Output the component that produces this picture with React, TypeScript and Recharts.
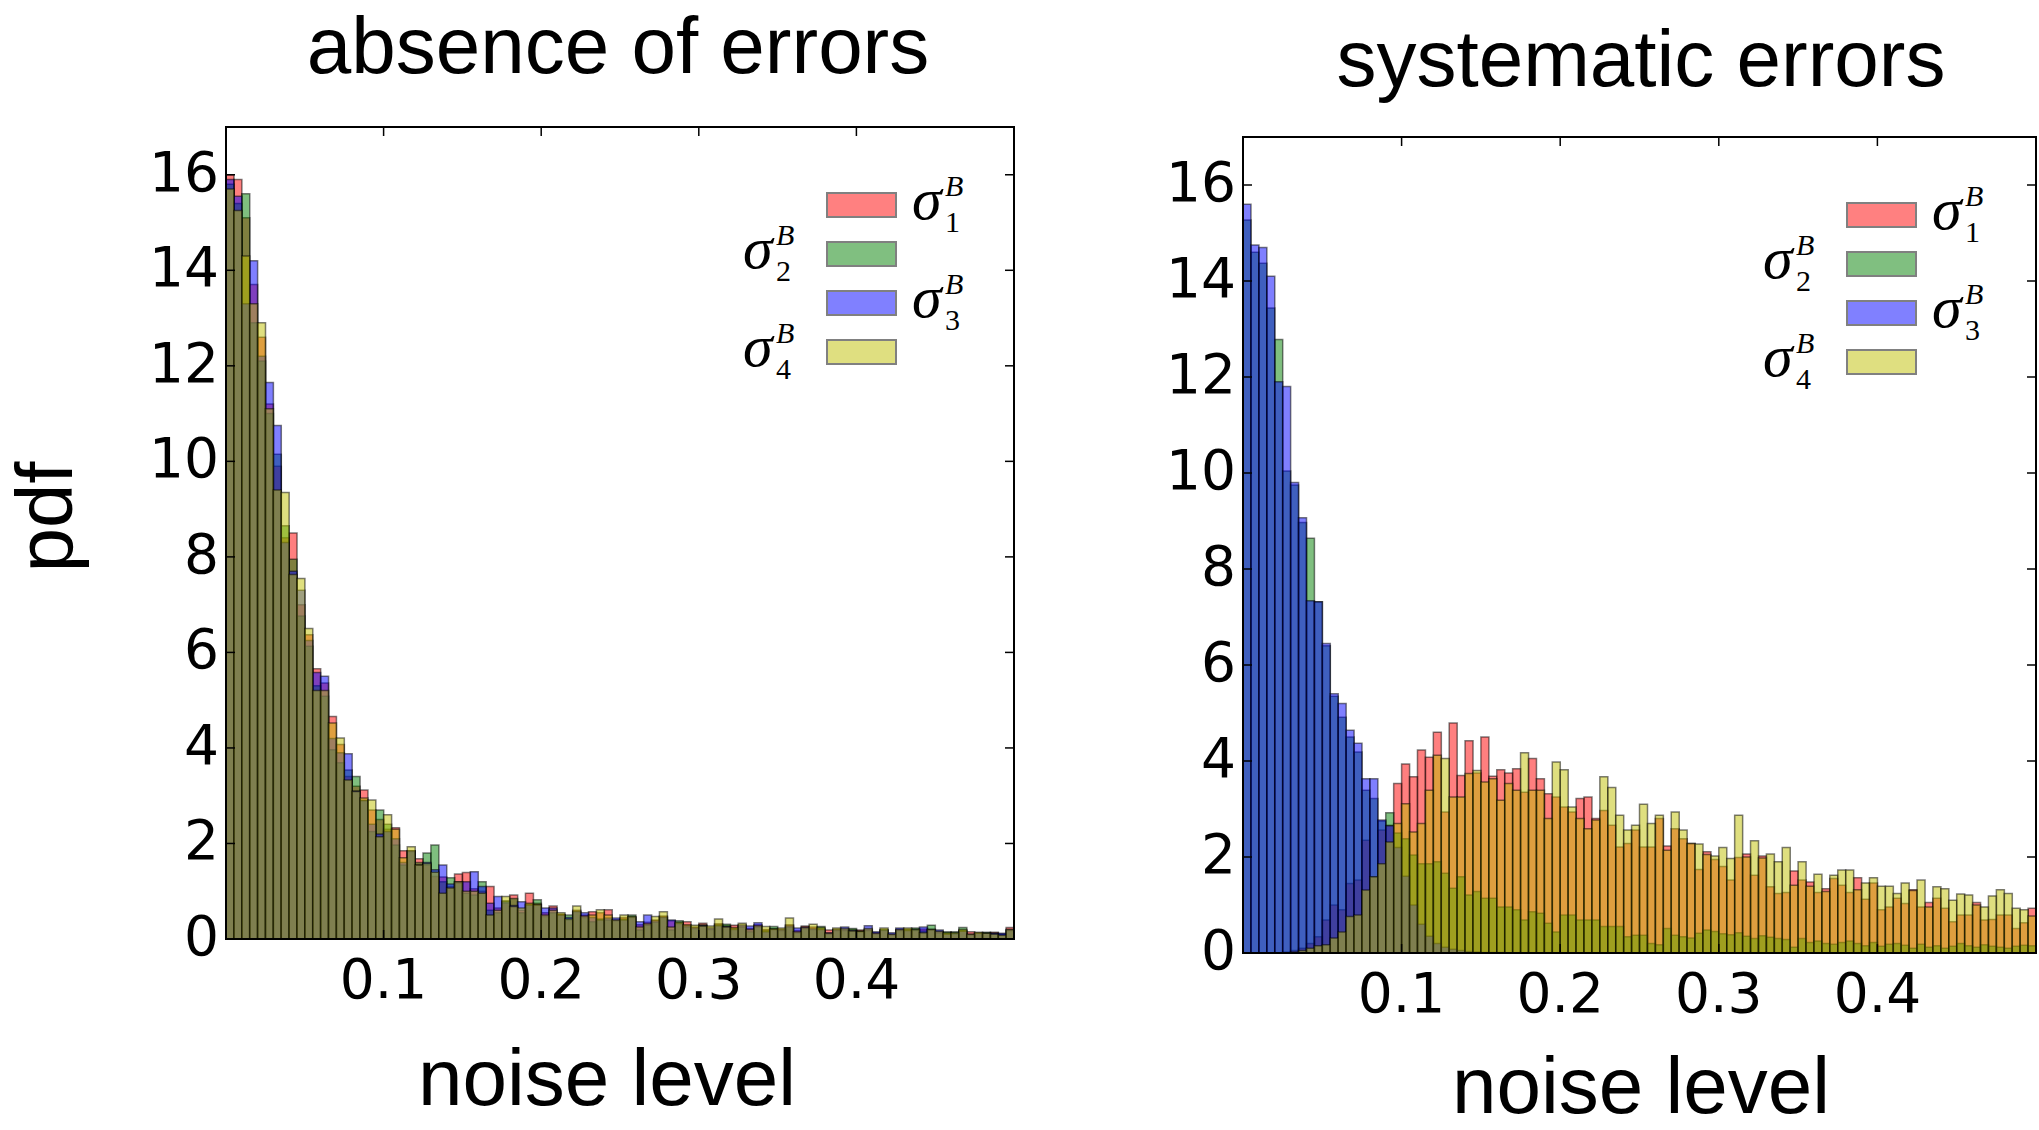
import React from 'react';
import { BarChart, Bar, XAxis, YAxis, Legend } from 'recharts';

const PAGE_W = 2039;
const PAGE_H = 1130;
const Y_AXIS_W = 80;
const X_AXIS_H = 60;

// 100 histogram bins of width 0.005 over [0, 0.5]
const BIN_COUNT = 100;
const BIN_WIDTH = 0.005;
const BIN_CENTERS = Array.from({ length: BIN_COUNT }, (_, i) => Number(((i + 0.5) * BIN_WIDTH).toFixed(4)));
const X_TICKS = [0.1, 0.2, 0.3, 0.4];
const Y_TICKS = [0, 2, 4, 6, 8, 10, 12, 14, 16];

const TITLES = ['absence of errors', 'systematic errors'];
const X_LABEL = 'noise level';
const Y_LABEL = 'pdf';
const SERIES_INDEX = ['1', '2', '3', '4'];

// left panel: absence of errors
const LEFT_S1 = [
  16.0, 15.9, 15.1, 13.7, 12.6, 11.2, 9.9, 8.4, 8.5, 7.0,
  6.37, 5.66, 5.36, 4.66, 4.07, 3.4, 3.2, 3.12, 2.7, 2.5,
  2.3, 2.33, 1.85, 1.85, 1.68, 1.55, 1.31, 1.3, 1.1, 1.36,
  1.39, 1.05, 1.0, 1.1, 0.65, 0.75, 0.92, 0.6, 0.96, 0.75,
  0.55, 0.69, 0.52, 0.4, 0.6, 0.5, 0.57, 0.55, 0.61, 0.4,
  0.45, 0.45, 0.3, 0.35, 0.4, 0.48, 0.38, 0.32, 0.36, 0.25,
  0.33, 0.22, 0.32, 0.28, 0.29, 0.28, 0.22, 0.3, 0.2, 0.22,
  0.2, 0.3, 0.18, 0.27, 0.25, 0.22, 0.19, 0.2, 0.2, 0.2,
  0.19, 0.2, 0.13, 0.18, 0.1, 0.2, 0.2, 0.18, 0.21, 0.2,
  0.15, 0.12, 0.1, 0.18, 0.15, 0.12, 0.12, 0.14, 0.1, 0.24,
];
const LEFT_S2 = [
  15.8, 15.4, 15.6, 12.9, 12.1, 11.0, 10.15, 8.65, 7.95, 6.76,
  6.13, 5.3, 5.08, 3.96, 3.69, 3.54, 3.4, 2.9, 2.25, 2.7,
  2.4, 1.97, 1.55, 1.83, 1.6, 1.8, 1.97, 1.2, 1.28, 1.17,
  0.96, 0.92, 1.2, 0.6, 0.55, 0.8, 0.85, 0.55, 0.72, 0.82,
  0.47, 0.55, 0.5, 0.5, 0.57, 0.45, 0.36, 0.42, 0.4, 0.38,
  0.42, 0.5, 0.19, 0.29, 0.35, 0.45, 0.19, 0.38, 0.25, 0.22,
  0.3, 0.2, 0.3, 0.31, 0.22, 0.25, 0.15, 0.25, 0.18, 0.26,
  0.18, 0.25, 0.13, 0.22, 0.2, 0.26, 0.1, 0.18, 0.18, 0.22,
  0.17, 0.18, 0.1, 0.2, 0.08, 0.18, 0.2, 0.23, 0.17, 0.29,
  0.13, 0.15, 0.15, 0.24, 0.08, 0.12, 0.14, 0.12, 0.1, 0.18,
];
const LEFT_S3 = [
  15.9, 15.55, 13.3, 14.2, 12.2, 11.65, 10.75, 8.3, 7.7, 7.3,
  6.25, 5.58, 5.5, 4.2, 3.9, 3.88, 3.1, 2.9, 2.4, 2.2,
  2.25, 2.1, 1.6, 1.85, 1.55, 1.6, 1.45, 1.55, 1.15, 1.2,
  1.2, 1.41, 1.1, 0.75, 0.89, 0.78, 0.7, 0.78, 0.71, 0.71,
  0.65, 0.65, 0.5, 0.45, 0.58, 0.55, 0.45, 0.4, 0.44, 0.44,
  0.4, 0.46, 0.36, 0.5, 0.38, 0.46, 0.4, 0.33, 0.28, 0.24,
  0.28, 0.24, 0.28, 0.26, 0.2, 0.3, 0.27, 0.34, 0.15, 0.2,
  0.2, 0.28, 0.23, 0.25, 0.22, 0.2, 0.13, 0.2, 0.25, 0.18,
  0.15, 0.28, 0.15, 0.19, 0.13, 0.23, 0.18, 0.2, 0.25, 0.2,
  0.19, 0.1, 0.12, 0.16, 0.1, 0.12, 0.12, 0.12, 0.12, 0.2,
];
const LEFT_S4 = [
  15.7, 15.25, 14.3, 13.3, 12.9, 11.1, 9.4, 9.35, 7.63, 7.55,
  6.5, 5.2, 5.2, 4.52, 4.21, 3.33, 3.09, 2.95, 2.91, 2.14,
  2.6, 2.3, 1.7, 1.93, 1.55, 1.58, 1.4, 0.96, 1.07, 1.2,
  1.0, 1.0, 0.96, 0.5, 0.6, 0.89, 0.68, 0.65, 0.75, 0.72,
  0.5, 0.6, 0.55, 0.42, 0.69, 0.48, 0.5, 0.61, 0.5, 0.4,
  0.5, 0.47, 0.25, 0.32, 0.47, 0.57, 0.25, 0.35, 0.3, 0.29,
  0.27, 0.27, 0.42, 0.25, 0.24, 0.33, 0.2, 0.28, 0.26, 0.21,
  0.23, 0.44, 0.15, 0.24, 0.31, 0.24, 0.12, 0.23, 0.22, 0.17,
  0.16, 0.22, 0.12, 0.23, 0.1, 0.2, 0.23, 0.2, 0.13, 0.2,
  0.16, 0.13, 0.13, 0.2, 0.1, 0.14, 0.12, 0.1, 0.08, 0.2,
];

// right panel: systematic errors
const RIGHT_S1 = [
  0, 0, 0, 0, 0, 0.02, 0.05, 0.1, 0.2, 0.34,
  0.69, 1.0, 0.9, 1.45, 1.52, 2.35, 1.59, 2.56, 2.66, 3.53,
  3.94, 3.67, 4.23, 4.08, 4.6, 2.94, 4.79, 3.7, 4.42, 3.75,
  4.5, 3.68, 3.82, 3.75, 3.84, 3.35, 4.05, 3.63, 3.32, 3.25,
  3.04, 2.94, 3.22, 3.25, 2.8, 2.97, 2.66, 2.21, 2.28, 2.56,
  2.21, 2.21, 2.8, 2.23, 2.59, 2.38, 2.28, 1.74, 2.11, 1.95,
  1.8, 1.52, 1.99, 2.06, 1.62, 2.02, 1.38, 1.24, 1.26, 1.71,
  1.52, 1.48, 1.26, 1.34, 1.55, 1.41, 1.26, 1.57, 1.12, 1.46,
  0.9, 0.96, 1.14, 1.03, 1.32, 0.96, 1.05, 1.14, 0.93, 0.65,
  0.79, 0.79, 1.05, 0.69, 0.7, 0.79, 0.79, 0.51, 0.63, 0.93,
];
const RIGHT_S2 = [
  15.27, 14.6, 14.37, 13.44, 12.78, 10.04, 9.75, 8.97, 8.64, 7.32,
  6.4, 5.35, 4.91, 4.5, 4.19, 3.39, 3.22, 2.75, 2.92, 2.5,
  2.38, 2.04, 1.86, 1.86, 1.9, 1.66, 1.35, 1.59, 1.21, 1.28,
  1.14, 1.14, 0.96, 0.96, 0.9, 0.69, 0.86, 0.83, 0.62, 0.44,
  0.79, 0.79, 0.69, 0.69, 0.69, 0.55, 0.55, 0.55, 0.34, 0.37,
  0.37, 0.2, 0.17, 0.51, 0.37, 0.34, 0.31, 0.41, 0.48, 0.45,
  0.4, 0.38, 0.42, 0.35, 0.3, 0.36, 0.33, 0.3, 0.28, 0.12,
  0.3, 0.22, 0.25, 0.2, 0.18, 0.22, 0.25, 0.2, 0.15, 0.22,
  0.14, 0.18, 0.2, 0.16, 0.1, 0.18, 0.12, 0.15, 0.1, 0.14,
  0.2, 0.15, 0.12, 0.17, 0.14, 0.12, 0.1, 0.14, 0.16, 0.15,
];
const RIGHT_S3 = [
  15.6, 14.75, 14.7, 14.1, 11.9, 11.8, 9.8, 9.07, 7.34, 7.32,
  6.45, 5.4, 5.2, 4.64, 4.37, 3.63, 3.63, 2.77, 2.65, 2.2,
  1.6, 1.0, 0.6, 0.35, 0.2, 0.12, 0.08, 0.05, 0.03, 0.02,
  0.01, 0.01, 0.01, 0, 0, 0, 0, 0, 0, 0,
  0, 0, 0, 0, 0, 0, 0, 0, 0, 0,
  0, 0, 0, 0, 0, 0, 0, 0, 0, 0,
  0, 0, 0, 0, 0, 0, 0, 0, 0, 0,
  0, 0, 0, 0, 0, 0, 0, 0, 0, 0,
  0, 0, 0, 0, 0, 0, 0, 0, 0, 0,
  0, 0, 0, 0, 0, 0, 0, 0, 0, 0,
];
const RIGHT_S4 = [
  0, 0, 0, 0, 0, 0, 0.02, 0.05, 0.1, 0.15,
  0.17, 0.31, 0.44, 0.76, 0.79, 1.31, 1.59, 1.86, 2.31, 2.7,
  3.11, 2.52, 2.7, 3.39, 4.12, 4.05, 3.25, 3.25, 3.74, 3.8,
  3.56, 3.63, 3.18, 3.53, 3.39, 4.17, 3.39, 3.39, 2.8, 3.98,
  3.82, 3.04, 2.8, 2.59, 2.77, 3.67, 3.45, 2.87, 2.56, 2.66,
  3.1, 2.7, 2.87, 2.14, 2.94, 2.56, 2.28, 2.27, 2.05, 2.02,
  2.2, 1.97, 2.87, 2.0, 2.34, 1.98, 2.06, 1.9, 2.2, 1.41,
  1.9, 1.39, 1.64, 1.28, 1.62, 1.73, 1.73, 1.32, 1.46, 1.57,
  1.39, 1.39, 1.24, 1.46, 1.3, 1.52, 0.96, 1.38, 1.34, 1.1,
  1.23, 1.21, 1.0, 0.96, 1.19, 1.32, 1.24, 0.93, 0.9, 0.77,
];

const SERIES_KEYS = ['s1', 's2', 's3', 's4'];
// matplotlib 'r', 'g', 'b', 'y' at alpha 0.5
const SERIES_COLORS = ['#ff0000', '#008000', '#0000ff', '#bfbf00'];
const PATCH_COLORS = ['#ff8080', '#80bf80', '#8080ff', '#dfdf80'];

const TICK_FONT = 'DejaVu Sans';
const LABEL_FONT = 'Liberation Sans';
const MATH_FONT = 'Liberation Serif';

interface Layout {
  chartLeft: number;
  chartWidth: number;
  plotLeft: number;
  plotTop: number;
  plotW: number;
  plotH: number;
  legendLeft: number;
  legendTop: number;
  titleX: number;
  titleY: number;
  xLabelX: number;
  xLabelY: number;
}

const LEFT_LAYOUT: Layout = {
  chartLeft: 0, chartWidth: 1040, plotLeft: 226, plotTop: 127, plotW: 788, plotH: 812,
  legendLeft: 737, legendTop: 163, titleX: 618, titleY: 73, xLabelX: 607, xLabelY: 1105,
};
const RIGHT_LAYOUT: Layout = {
  chartLeft: 1100, chartWidth: 939, plotLeft: 1243, plotTop: 137, plotW: 793, plotH: 816,
  legendLeft: 657, legendTop: 173, titleX: 1641, titleY: 86, xLabelX: 1641, xLabelY: 1113,
};

const XTick = (props: any) => {
  const { x, y, payload, plotH } = props;
  return (
    <g>
      <line x1={x} x2={x} y1={y} y2={y - 9} stroke="#000" strokeWidth={1.5} />
      <line x1={x} x2={x} y1={y - plotH} y2={y - plotH + 9} stroke="#000" strokeWidth={1.5} />
      <text x={x} y={y + 59} textAnchor="middle" fontFamily={TICK_FONT} fontSize={55} fill="#000">
        {payload.value}
      </text>
    </g>
  );
};

const YTick = (props: any) => {
  const { x, y, payload, plotW } = props;
  return (
    <g>
      <line x1={x} x2={x + 9} y1={y} y2={y} stroke="#000" strokeWidth={1.5} />
      <line x1={x + plotW - 9} x2={x + plotW} y1={y} y2={y} stroke="#000" strokeWidth={1.5} />
      <text x={x - 7} y={y + 16} textAnchor="end" fontFamily={TICK_FONT} fontSize={55} fill="#000">
        {payload.value}
      </text>
    </g>
  );
};

// legend: patches in a column, labels alternate right / left like the original
const renderLegend = (props: any) => {
  const items = props.payload || [];
  return (
    <svg width={250} height={230} style={{ overflow: 'visible' }}>
      {items.map((p: any, i: number) => {
        const py = 30 + i * 49;
        const onRight = i % 2 === 0;
        const sx = onRight ? 90 + 69 + 16 : 6;
        const ix = sx + 33;
        return (
          <g key={p.value}>
            <rect x={90} y={py} width={69} height={24} fill={PATCH_COLORS[i]} stroke="#808080" strokeWidth={2} />
            <text x={sx} y={py + 26} fontFamily={MATH_FONT} fontStyle="italic" fontSize={60} fill="#000">σ</text>
            <text x={ix} y={py + 3} fontFamily={MATH_FONT} fontStyle="italic" fontSize={30} fill="#000">B</text>
            <text x={ix} y={py + 39} fontFamily={MATH_FONT} fontSize={30} fill="#000">{p.value}</text>
          </g>
        );
      })}
    </svg>
  );
};

function HistPanel({ layout, series }: { layout: Layout; series: number[][] }) {
  const { chartLeft, chartWidth, plotLeft, plotTop, plotW, plotH } = layout;
  const rows = BIN_CENTERS.map((x, i) => ({
    x,
    s1: series[0][i],
    s2: series[1][i],
    s3: series[2][i],
    s4: series[3][i],
  }));
  const margin = {
    top: plotTop,
    right: chartLeft + chartWidth - plotLeft - plotW,
    bottom: PAGE_H - plotTop - plotH - X_AXIS_H,
    left: plotLeft - chartLeft - Y_AXIS_W,
  };

  return (
    <div style={{ position: 'absolute', left: chartLeft, top: 0 }}>
      <BarChart width={chartWidth} height={PAGE_H} data={rows} margin={margin} barCategoryGap={0} barGap={0}>
        {SERIES_KEYS.map((k, i) => (
          <XAxis
            key={k}
            xAxisId={k}
            type="number"
            dataKey="x"
            domain={[0, 0.5]}
            allowDataOverflow
            hide={i !== 0}
            ticks={X_TICKS}
            interval={0}
            height={X_AXIS_H}
            axisLine={false}
            tickLine={false}
            tickSize={0}
            tickMargin={0}
            tick={(p: any) => <XTick {...p} plotH={plotH} />}
          />
        ))}
        <YAxis
          type="number"
          domain={[0, 17]}
          allowDataOverflow
          ticks={Y_TICKS}
          interval={0}
          width={Y_AXIS_W}
          axisLine={false}
          tickLine={false}
          tickSize={0}
          tickMargin={0}
          tick={(p: any) => <YTick {...p} plotW={plotW} />}
        />
        {SERIES_KEYS.map((k, i) => (
          <Bar
            key={k}
            dataKey={k}
            xAxisId={k}
            name={SERIES_INDEX[i]}
            fill={SERIES_COLORS[i]}
            fillOpacity={0.5}
            stroke="#000"
            strokeOpacity={0.5}
            strokeWidth={1.5}
            isAnimationActive={false}
          />
        ))}
        <Legend
          layout="vertical"
          align="center"
          verticalAlign="middle"
          wrapperStyle={{ left: layout.legendLeft, top: layout.legendTop, width: 250, height: 230 }}
          content={renderLegend}
        />
      </BarChart>
    </div>
  );
}

export default function App() {
  const layouts = [LEFT_LAYOUT, RIGHT_LAYOUT];
  return (
    <div
      style={{
        position: 'absolute',
        left: 0,
        top: 0,
        width: PAGE_W,
        height: PAGE_H,
        background: '#fff',
        overflow: 'hidden',
      }}
    >
      <HistPanel layout={LEFT_LAYOUT} series={[LEFT_S1, LEFT_S2, LEFT_S3, LEFT_S4]} />
      <HistPanel layout={RIGHT_LAYOUT} series={[RIGHT_S1, RIGHT_S2, RIGHT_S3, RIGHT_S4]} />
      <svg
        width={PAGE_W}
        height={PAGE_H}
        style={{ position: 'absolute', left: 0, top: 0, pointerEvents: 'none' }}
      >
        {layouts.map((l, i) => (
          <g key={i}>
            <rect x={l.plotLeft} y={l.plotTop} width={l.plotW} height={l.plotH} fill="none" stroke="#000" strokeWidth={2} />
            <text x={l.titleX} y={l.titleY} textAnchor="middle" fontFamily={LABEL_FONT} fontSize={80} fill="#000">
              {TITLES[i]}
            </text>
            <text x={l.xLabelX} y={l.xLabelY} textAnchor="middle" fontFamily={LABEL_FONT} fontSize={80} fill="#000">
              {X_LABEL}
            </text>
          </g>
        ))}
        <text
          transform="translate(72,517) rotate(-90)"
          textAnchor="middle"
          fontFamily={LABEL_FONT}
          fontSize={80}
          fill="#000"
        >
          {Y_LABEL}
        </text>
      </svg>
    </div>
  );
}
